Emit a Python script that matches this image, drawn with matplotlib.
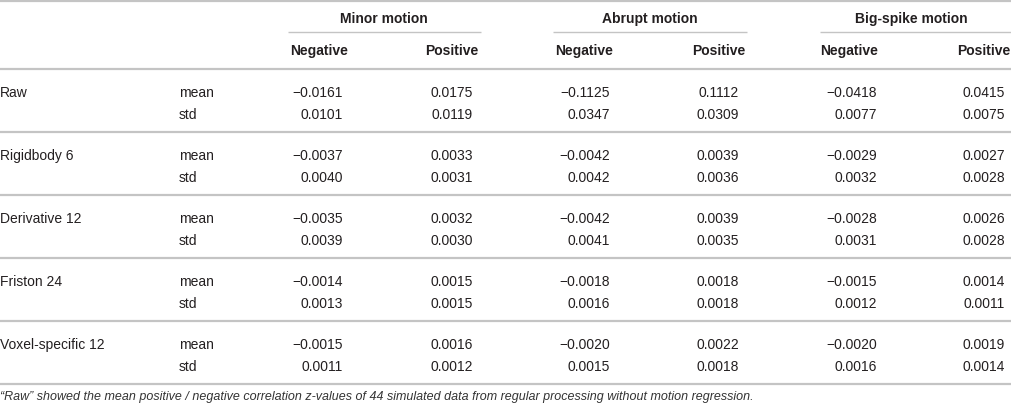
import matplotlib
matplotlib.use("Agg")
import matplotlib.pyplot as plt

methods = ["Raw", "Rigidbody 6", "Derivative 12", "Friston 24", "Voxel-specific 12"]
stats = ["mean", "std"]
groups = ["Minor motion", "Abrupt motion", "Big-spike motion"]
subcols = ["Negative", "Positive"]

minor_neg = [[-0.0161, 0.0101], [-0.0037, 0.0040], [-0.0035, 0.0039], [-0.0014, 0.0013], [-0.0015, 0.0011]]
minor_pos = [[0.0175, 0.0119], [0.0033, 0.0031], [0.0032, 0.0030], [0.0015, 0.0015], [0.0016, 0.0012]]
abrupt_neg = [[-0.1125, 0.0347], [-0.0042, 0.0042], [-0.0042, 0.0041], [-0.0018, 0.0016], [-0.0020, 0.0015]]
abrupt_pos = [[0.1112, 0.0309], [0.0039, 0.0036], [0.0039, 0.0035], [0.0018, 0.0018], [0.0022, 0.0018]]
big_neg = [[-0.0418, 0.0077], [-0.0029, 0.0032], [-0.0028, 0.0031], [-0.0015, 0.0012], [-0.0020, 0.0016]]
big_pos = [[0.0415, 0.0075], [0.0027, 0.0028], [0.0026, 0.0028], [0.0014, 0.0011], [0.0019, 0.0014]]

caption = "\u201cRaw\u201d showed the mean positive / negative correlation z-values of 44 simulated data from regular processing without motion regression."

columns = [minor_neg, minor_pos, abrupt_neg, abrupt_pos, big_neg, big_pos]

W, H = 1011, 406
fig = plt.figure(figsize=(W / 100, H / 100), dpi=100)
ax = fig.add_axes([0, 0, 1, 1])
ax.set_xlim(0, W)
ax.set_ylim(H, 0)
ax.axis("off")

plt.rcParams["font.family"] = ["Liberation Sans", "DejaVu Sans"]
txt = "#231f20"
lc = "#c4c4c4"
fs = 10

# layout
num_right = [343, 473, 610, 739, 877, 1005]
neg_left = [290, 555, 820]
pos_right = [478, 745, 1010]
grp_center = [384, 650, 911]
under = [(288, 481), (553, 747), (820, 1011)]
row_lines = [70, 133, 196, 259, 322, 385]

def fmt(v):
    s = f"{abs(v):.4f}"
    return ("\u2212" + s) if v < 0 else s

# rules
ax.plot([0, W], [1.5, 1.5], color=lc, lw=1.6, solid_capstyle="butt")
for x0, x1 in under:
    ax.plot([x0, x1], [33, 33], color=lc, lw=1.0, solid_capstyle="butt")
for y in row_lines:
    ax.plot([0, W], [y, y], color=lc, lw=1.6, solid_capstyle="butt")

# headers
for g, cx in zip(groups, grp_center):
    ax.text(cx, 23, g, ha="center", va="baseline", fontsize=fs, fontweight="bold", color=txt)
for i in range(3):
    ax.text(neg_left[i], 55, subcols[0], ha="left", va="baseline", fontsize=fs, fontweight="bold", color=txt)
    ax.text(pos_right[i], 55, subcols[1], ha="right", va="baseline", fontsize=fs, fontweight="bold", color=txt)

# body
for r, m in enumerate(methods):
    top = row_lines[r]
    ys = [top + 27, top + 49]
    ax.text(0, ys[0], m, ha="left", va="baseline", fontsize=fs, color=txt)
    for k, s in enumerate(stats):
        ax.text(179, ys[k], s, ha="left", va="baseline", fontsize=fs, color=txt)
        for c, col in enumerate(columns):
            ax.text(num_right[c], ys[k], fmt(col[r][k]), ha="right", va="baseline", fontsize=fs, color=txt)

ax.text(0, 400, caption, ha="left", va="baseline", fontsize=9, style="italic", color="#333333")

fig.savefig("out.png", dpi=100)
